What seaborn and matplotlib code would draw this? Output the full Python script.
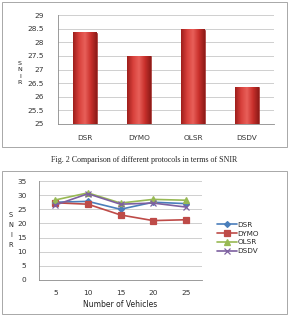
import seaborn as sns
import numpy as np
import pandas as pd
import matplotlib.pyplot as plt
from matplotlib.patches import Rectangle
from matplotlib.colors import LinearSegmentedColormap

protocols = ["DSR", "DYMO", "OLSR", "DSDV"]
snir_avg = [28.35, 27.48, 28.45, 26.35]

vehicles = [5, 10, 15, 20, 25]
dsr = [27.5, 27.8, 25.0, 27.5, 27.0]
dymo = [27.3, 26.8, 23.0, 21.0, 21.3]
olsr = [28.3, 30.8, 27.2, 28.5, 28.2]
dsdv = [26.5, 30.5, 26.8, 27.2, 25.8]

sns.set_theme(style="white")
plt.rcParams['font.family'] = ['DejaVu Sans']

W, H = 289, 319
fig = plt.figure(figsize=(W / 100, H / 100), dpi=100)

def fx(px):
    return px / W

def fy(px):
    return 1 - px / H

# outer frames of the two charts
for top, bot in [(2, 147), (171, 314)]:
    fig.patches.append(Rectangle((fx(2), fy(bot)), fx(285), (bot - top) / H,
                                 transform=fig.transFigure, fill=False,
                                 edgecolor="#9a9a9a", linewidth=0.6))

# ---- top bar chart
ax1 = fig.add_axes([fx(58), fy(124), fx(274 - 58), (124 - 15) / H])
bars = pd.DataFrame({"protocol": protocols, "snir": snir_avg})
sns.barplot(data=bars, x="protocol", y="snir", ax=ax1, color="#c9302c",
            width=0.43, edgecolor="#8e1b18", linewidth=0.4, saturation=1)
ymin = 25
# cylinder-ish shading like the excel bars
cmap = LinearSegmentedColormap.from_list("bar", ["#9e1f1c", "#d8403b", "#e8605a", "#c9302c", "#8e1b18"])
grad = np.linspace(0, 1, 64).reshape(1, -1)
for patch in list(ax1.patches):
    x0, y1 = patch.get_x(), patch.get_y() + patch.get_height()
    w = patch.get_width()
    ax1.imshow(grad, cmap=cmap, aspect="auto", extent=[x0, x0 + w, ymin, y1],
               zorder=patch.get_zorder() + 0.1)
ax1.set_ylim(25, 29)
ax1.set_yticks(np.arange(25, 29.01, 0.5))
ax1.set_yticklabels(["25", "25.5", "26", "26.5", "27", "27.5", "28", "28.5", "29"])
ax1.set_xlim(-0.5, 3.5)
ax1.set_aspect("auto")
ax1.yaxis.grid(True, color="#c8c8c8", linewidth=0.6)
ax1.set_axisbelow(True)
ax1.set_xlabel("")
ax1.set_ylabel("")
for s in ["top", "right"]:
    ax1.spines[s].set_visible(False)
for s in ["left", "bottom"]:
    ax1.spines[s].set_color("#8a8a8a")
    ax1.spines[s].set_linewidth(0.6)
ax1.tick_params(axis="both", labelsize=5.3, colors="#333333", length=2, width=0.5,
                pad=6)
ax1.tick_params(axis="y", pad=8)
fig.text(fx(20), fy(73), "S\nN\nI\nR", fontsize=4.6, ha="center", va="center",
         linespacing=1.35, color="#222222")

# caption
fig.text(0.5, fy(160), "Fig. 2 Comparison of different protocols in terms of SNIR",
         fontsize=5.8, ha="center", va="center", family=["Liberation Serif", "DejaVu Serif"])

# ---- bottom line chart
ax2 = fig.add_axes([fx(39), fy(280), fx(202 - 39), (280 - 181) / H])
df = pd.DataFrame({
    "vehicles": vehicles * 4,
    "snir": dsr + dymo + olsr + dsdv,
    "protocol": ["DSR"] * 5 + ["DYMO"] * 5 + ["OLSR"] * 5 + ["DSDV"] * 5,
})
palette = {"DSR": "#4a7ebb", "DYMO": "#be4b48", "OLSR": "#98b954", "DSDV": "#7d60a0"}
markers = {"DSR": "D", "DYMO": "s", "OLSR": "^", "DSDV": "x"}
sizes = {"DSR": 3, "DYMO": 4.5, "OLSR": 4, "DSDV": 4}
for p in protocols:
    sub = df[df["protocol"] == p]
    sns.lineplot(data=sub, x="vehicles", y="snir", ax=ax2, color=palette[p],
                 marker=markers[p], markersize=sizes[p], linewidth=1.2,
                 markeredgecolor=palette[p], markeredgewidth=0.9, label=p)
ax2.set_xlim(2.5, 27.5)
ax2.set_xticks(vehicles)
ax2.set_ylim(0, 35)
ax2.set_yticks(range(0, 36, 5))
ax2.yaxis.grid(True, color="#c8c8c8", linewidth=0.6)
ax2.set_axisbelow(True)
ax2.set_ylabel("")
ax2.set_xlabel("Number of Vehicles", fontsize=5.5, color="#222222", labelpad=3)
for s in ["top", "right"]:
    ax2.spines[s].set_visible(False)
for s in ["left", "bottom"]:
    ax2.spines[s].set_color("#8a8a8a")
    ax2.spines[s].set_linewidth(0.6)
ax2.tick_params(axis="both", labelsize=5.3, colors="#333333", length=2, width=0.5,
                pad=5)
ax2.tick_params(axis="y", pad=7)
fig.text(fx(11), fy(230), "S\nN\nI\nR", fontsize=4.8, ha="center", va="center",
         linespacing=1.75, color="#222222")
ax2.legend(loc="center left", bbox_to_anchor=(fx(213), fy(238)),
           bbox_transform=fig.transFigure, frameon=False, fontsize=5.2,
           handlelength=2.8, handletextpad=0.1, labelspacing=0.4, borderpad=0)

fig.savefig("out.png", dpi=100)
